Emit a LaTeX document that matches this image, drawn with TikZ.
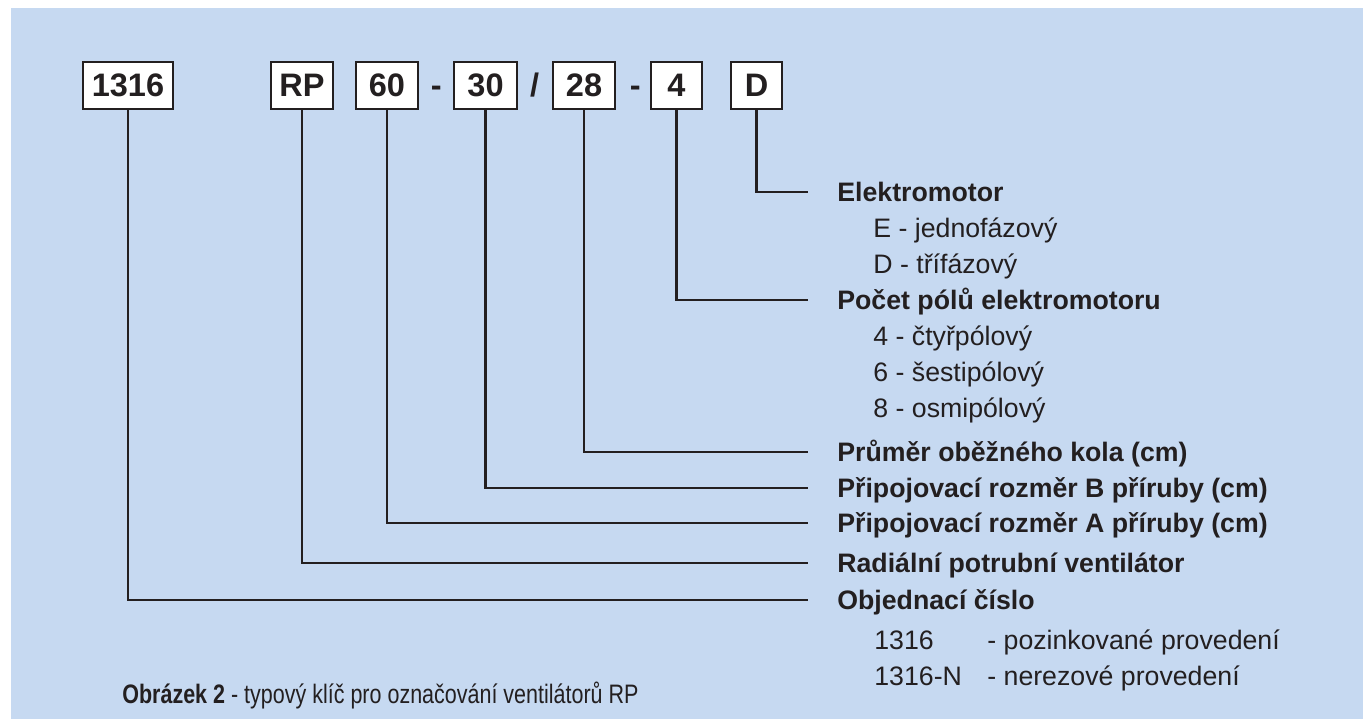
\documentclass[tikz,border=0pt]{standalone}
\usepackage{fontspec}
\setmainfont{Liberation Sans}
\newfontfamily\narrowfont[FakeStretch=0.805]{Liberation Sans}
\usepackage{tikz}
\usetikzlibrary{positioning,calc}
\definecolor{panelbg}{HTML}{C6D9F1}
\definecolor{ink}{HTML}{231F20}

\tikzset{
  keybox/.style={draw=ink, line width=1.6pt, fill=white, inner sep=0pt,
    minimum height=0.94cm, font=\fontsize{18.5}{21}\selectfont\bfseries, text=ink},
  sep/.style={inner sep=0pt, anchor=base, font=\fontsize{18.5}{21}\selectfont\bfseries, text=ink},
  wire/.style={draw=ink, line width=1.6pt, shorten >=0.58cm},
  head/.style={anchor=west, inner sep=0pt, text height=10.9pt, text depth=0pt,
    font=\fontsize{15.2}{18}\selectfont\bfseries, text=ink},
  item/.style={anchor=west, inner sep=0pt, text height=10.9pt, text depth=0pt,
    font=\fontsize{15.2}{18}\selectfont, text=ink}
}

\begin{document}
\begin{tikzpicture}[x=0.02cm, y=-0.02cm]
  \useasboundingbox (0,0) rectangle (1363,719);
  \fill[panelbg] (11,8) rectangle (1363,719);

  % code boxes
  \foreach \name/\cx/\w/\txt in {b1316/128/90/1316, bRP/302/62/RP, b60/387/62/60,
      b30/485.5/63/30, b28/584/62/28, b4/676.5/51/4, bD/756.5/51/D} {
    \node[keybox, minimum width=\w*0.02cm] (\name) at (\cx,85.5) {\txt};
  }
  \node[sep] (s1) at ($(b60.base)!0.5!(b30.base)$) {-};
  \node[sep] (s2) at ($(b30.base)!0.5!(b28.base)$) {/};
  \node[sep, xshift=0.1cm] (s3) at ($(b28.base)!0.5!(b4.base)$) {-};

  % headings and options
  \node[head] (lMotor) at (837,192) {Elektromotor};
  \node[item] (oE) at (873,228) {E - jednofázový};
  \node[item] (oD) at (873,264) {D - třífázový};
  \node[head] (lPoles) at (837,300) {Počet pólů elektromotoru};
  \node[item] (o4) at (873,336) {4 - čtyřpólový};
  \node[item] (o6) at (873,372) {6 - šestipólový};
  \node[item] (o8) at (873,408) {8 - osmipólový};
  \node[head] (lWheel) at (837,452) {Průměr oběžného kola (cm)};
  \node[head] (lB) at (837,488) {Připojovací rozměr B příruby (cm)};
  \node[head] (lA) at (837,523) {Připojovací rozměr A příruby (cm)};
  \node[head] (lRP) at (837,563) {Radiální potrubní ventilátor};
  \node[head] (lOrder) at (837,600) {Objednací číslo};
  \node[item] (oZn) at (874,640) {1316};
  \node[item] (oZnT) at (987,640) {- pozinkované provedení};
  \node[item] (oN) at (874,676) {1316-N};
  \node[item] (oNT) at (987,676) {- nerezové provedení};

  % caption
  \node[item, font=\fontsize{15.2}{18}\narrowfont] (cap) at (122,694)
    {\textbf{Obrázek 2} - typový klíč pro označování ventilátorů RP};

  % leader lines
  \draw[wire] (bD.south) |- (lMotor.west);
  \draw[wire] (b4.south) |- (lPoles.west);
  \draw[wire] (b28.south) |- (lWheel.west);
  \draw[wire] (b30.south) |- (lB.west);
  \draw[wire] (b60.south) |- (lA.west);
  \draw[wire] (bRP.south) |- (lRP.west);
  \draw[wire] (b1316.south) |- (lOrder.west);
\end{tikzpicture}
\end{document}
